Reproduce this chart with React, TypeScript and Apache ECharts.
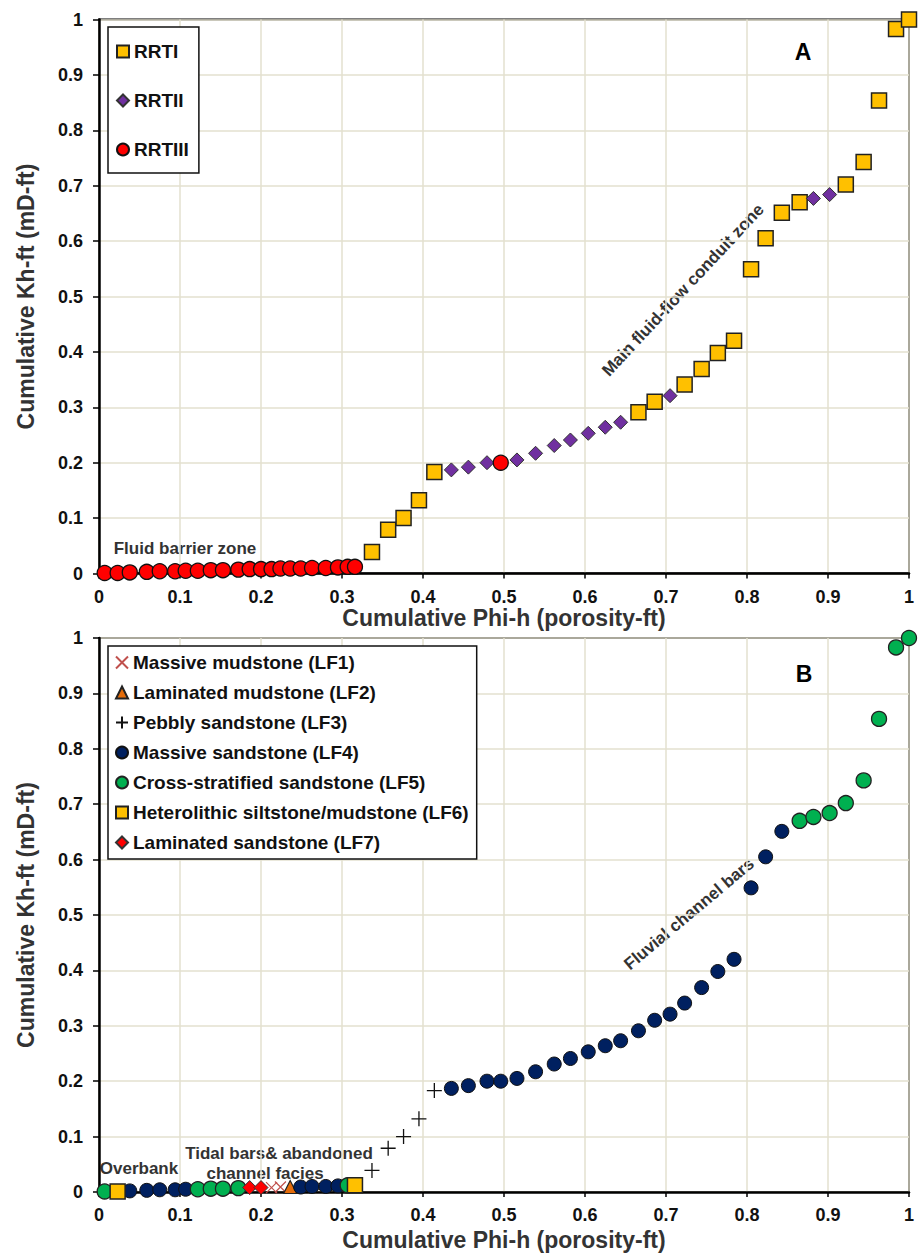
import React, { useEffect, useRef } from "react";
import * as echarts from "echarts";

// Cumulative Phi-h (x) and Cumulative Kh-ft (y) of each sample, in depth order
const phiH = [
  0.007, 0.023, 0.038, 0.059, 0.075, 0.094, 0.107, 0.122, 0.138, 0.153, 0.172,
  0.186, 0.2, 0.213, 0.224, 0.236, 0.249, 0.263, 0.28, 0.295, 0.307, 0.316,
  0.337, 0.357, 0.376, 0.395, 0.414, 0.435, 0.456, 0.479, 0.496, 0.516, 0.539,
  0.562, 0.582, 0.604, 0.625, 0.644, 0.666, 0.686, 0.705, 0.723, 0.744, 0.764,
  0.784, 0.805, 0.823, 0.843, 0.865, 0.882, 0.902, 0.922, 0.944, 0.963, 0.984, 1.0,
];
const khH = [
  0.001, 0.001, 0.002, 0.003, 0.004, 0.004, 0.005, 0.005, 0.006, 0.006, 0.007,
  0.008, 0.008, 0.008, 0.009, 0.009, 0.009, 0.01, 0.01, 0.011, 0.012, 0.012,
  0.039, 0.079, 0.1, 0.132, 0.183, 0.187, 0.192, 0.2, 0.2, 0.205, 0.217,
  0.231, 0.241, 0.253, 0.264, 0.273, 0.291, 0.31, 0.321, 0.341, 0.369, 0.398,
  0.42, 0.549, 0.605, 0.651, 0.67, 0.677, 0.684, 0.702, 0.743, 0.854, 0.983, 1.0,
];
// Reservoir rock type of each sample (panel A)
const rrtClass = [
  "RRTIII", "RRTIII", "RRTIII", "RRTIII", "RRTIII", "RRTIII", "RRTIII", "RRTIII", "RRTIII", "RRTIII", "RRTIII",
  "RRTIII", "RRTIII", "RRTIII", "RRTIII", "RRTIII", "RRTIII", "RRTIII", "RRTIII", "RRTIII", "RRTIII", "RRTIII",
  "RRTI", "RRTI", "RRTI", "RRTI", "RRTI", "RRTII", "RRTII", "RRTII", "RRTIII", "RRTII", "RRTII",
  "RRTII", "RRTII", "RRTII", "RRTII", "RRTII", "RRTI", "RRTI", "RRTII", "RRTI", "RRTI", "RRTI",
  "RRTI", "RRTI", "RRTI", "RRTI", "RRTI", "RRTII", "RRTII", "RRTI", "RRTI", "RRTI", "RRTI", "RRTI",
];
// Lithofacies of each sample (panel B)
const lfClass = [
  "LF5", "LF6", "LF4", "LF4", "LF4", "LF4", "LF4", "LF5", "LF5", "LF5", "LF5",
  "LF7", "LF7", "LF1", "LF1", "LF2", "LF4", "LF4", "LF4", "LF4", "LF5", "LF6",
  "LF3", "LF3", "LF3", "LF3", "LF3", "LF4", "LF4", "LF4", "LF4", "LF4", "LF4",
  "LF4", "LF4", "LF4", "LF4", "LF4", "LF4", "LF4", "LF4", "LF4", "LF4", "LF4",
  "LF4", "LF4", "LF4", "LF4", "LF5", "LF5", "LF5", "LF5", "LF5", "LF5", "LF5", "LF5",
];

const rrtNames = ["RRTI", "RRTII", "RRTIII"];
const lfCodes = ["LF1", "LF2", "LF3", "LF4", "LF5", "LF6", "LF7"];
const lfNames = [
  "Massive mudstone (LF1)",
  "Laminated mudstone (LF2)",
  "Pebbly sandstone (LF3)",
  "Massive sandstone (LF4)",
  "Cross-stratified sandstone (LF5)",
  "Heterolithic siltstone/mudstone (LF6)",
  "Laminated sandstone (LF7)",
];
const axisTicks = [0, 0.1, 0.2, 0.3, 0.4, 0.5, 0.6, 0.7, 0.8, 0.9, 1];

const xTitle = "Cumulative Phi-h (porosity-ft)";
const yTitle = "Cumulative Kh-ft (mD-ft)";

const PLUS = "path://M0,5L10,5M5,0L5,10";
const CROSS = "path://M0,0L10,10M10,0L0,10";

const rrtStyle: Record<string, any> = {
  RRTI: { symbol: "rect", size: 15, color: "#FFC000", border: "#222", bw: 1.5 },
  RRTII: { symbol: "diamond", size: 14, color: "#7030A0", border: "#333", bw: 1 },
  RRTIII: { symbol: "circle", size: 15, color: "#FF0000", border: "#111", bw: 1.3 },
};
const lfStyle: Record<string, any> = {
  LF1: { symbol: CROSS, size: 11, color: "#C0504D", border: "#C0504D", bw: 1.2 },
  LF2: { symbol: "triangle", size: 13, color: "#E46C0A", border: "#222", bw: 1.2 },
  LF3: { symbol: PLUS, size: 15, color: "#111", border: "#111", bw: 1.3 },
  LF4: { symbol: "circle", size: 14, color: "#002060", border: "#111", bw: 1 },
  LF5: { symbol: "circle", size: 15, color: "#00B050", border: "#222", bw: 1.3 },
  LF6: { symbol: "rect", size: 15, color: "#FFC000", border: "#222", bw: 1.5 },
  LF7: { symbol: "diamond", size: 14, color: "#FF0000", border: "#333", bw: 1 },
};

function pointsWhere(classes: string[], cls: string) {
  return phiH.map((x, i) => [x, khH[i]]).filter((_, i) => classes[i] === cls);
}

function makeXAxis(gridIndex: number, nameGap: number) {
  return {
    type: "value",
    gridIndex,
    min: 0,
    max: 1,
    interval: 0.1,
    name: xTitle,
    nameLocation: "middle",
    nameGap,
    nameTextStyle: { fontFamily: "Liberation Sans", fontWeight: "bold", fontSize: 23, color: "#333" },
    axisLine: { show: true, onZero: false, lineStyle: { color: "#000", width: 2.5 } },
    axisTick: { show: true, length: 5, lineStyle: { color: "#000", width: 1.5 } },
    axisLabel: {
      margin: 14,
      fontFamily: "Liberation Sans",
      fontWeight: "bold",
      fontSize: 18,
      color: "#111",
      formatter: (v: number) => String(axisTicks.find((t) => Math.abs(t - v) < 1e-6) ?? v),
    },
    splitLine: { show: true, lineStyle: { color: "#E3E0CF", width: 1.5 } },
  };
}

function makeYAxis(gridIndex: number) {
  return {
    type: "value",
    gridIndex,
    min: 0,
    max: 1,
    interval: 0.1,
    name: yTitle,
    nameLocation: "middle",
    nameGap: 62,
    nameTextStyle: { fontFamily: "Liberation Sans", fontWeight: "bold", fontSize: 23, color: "#333" },
    axisLine: { show: true, onZero: false, lineStyle: { color: "#000", width: 2.5 } },
    axisTick: { show: true, length: 6, lineStyle: { color: "#000", width: 1.5 } },
    axisLabel: {
      margin: 16,
      fontFamily: "Liberation Sans",
      fontWeight: "bold",
      fontSize: 18,
      color: "#111",
      formatter: (v: number) => String(axisTicks.find((t) => Math.abs(t - v) < 1e-6) ?? v),
    },
    splitLine: { show: true, lineStyle: { color: "#E3E0CF", width: 1.5 } },
  };
}

function scatterSeries(name: string, st: any, data: number[][], axisIndex: number) {
  return {
    type: "scatter",
    name,
    xAxisIndex: axisIndex,
    yAxisIndex: axisIndex,
    symbol: st.symbol,
    symbolSize: st.size,
    data,
    itemStyle: { color: st.color, borderColor: st.border, borderWidth: st.bw, opacity: 1 },
    emphasis: { disabled: true },
  };
}

const annotFont = "bold 17px 'Liberation Sans'";

export default function App() {
  const ref = useRef<HTMLDivElement>(null);
  useEffect(() => {
    document.body.style.margin = "0";
    if (!ref.current) return;
    const chart = echarts.init(ref.current, null, { renderer: "svg" });
    const seriesA = rrtNames.map((n) => scatterSeries(n, rrtStyle[n], pointsWhere(rrtClass, n), 0));
    const seriesB = lfCodes.map((c, i) => scatterSeries(lfNames[i], lfStyle[c], pointsWhere(lfClass, c), 1));
    const legendText = { fontFamily: "Liberation Sans", fontWeight: "bold", fontSize: 19, color: "#111" };
    chart.setOption({
      animation: false,
      backgroundColor: "#fff",
      grid: [
        { left: 99, top: 19.5, width: 810, height: 554, show: true, borderColor: "#000", borderWidth: 2, backgroundColor: "transparent" },
        { left: 99, top: 638, width: 810, height: 554, show: true, borderColor: "#000", borderWidth: 2, backgroundColor: "transparent" },
      ],
      xAxis: [makeXAxis(0, 31), makeXAxis(1, 36)],
      yAxis: [makeYAxis(0), makeYAxis(1)],
      legend: [
        {
          data: rrtNames,
          orient: "vertical",
          left: 108,
          top: 27,
          itemWidth: 12,
          itemHeight: 12,
          itemGap: 30,
          padding: [15, 10, 14, 8],
          borderColor: "#111",
          borderWidth: 1.5,
          backgroundColor: "#fff",
          textStyle: legendText,
          selectedMode: false,
        },
        {
          data: lfNames,
          orient: "vertical",
          left: 108,
          top: 646,
          itemWidth: 12,
          itemHeight: 12,
          itemGap: 11,
          padding: [7, 8, 7, 7],
          borderColor: "#111",
          borderWidth: 1.5,
          backgroundColor: "#fff",
          textStyle: legendText,
          selectedMode: false,
        },
      ],
      graphic: [
        { type: "text", x: 803, y: 52, style: { text: "A", font: "bold 23px 'Liberation Sans'", fill: "#000", align: "center", verticalAlign: "middle" } },
        { type: "text", x: 804, y: 674, style: { text: "B", font: "bold 23px 'Liberation Sans'", fill: "#000", align: "center", verticalAlign: "middle" } },
        { type: "text", x: 185, y: 548, style: { text: "Fluid barrier zone", font: annotFont, fill: "#333", align: "center", verticalAlign: "middle" } },
        { type: "text", x: 683, y: 290, rotation: (47 * Math.PI) / 180, style: { text: "Main fluid-flow conduit zone", font: annotFont, fill: "#333", align: "center", verticalAlign: "middle" } },
        { type: "text", x: 689, y: 914, rotation: (40 * Math.PI) / 180, style: { text: "Fluvial channel bars", font: annotFont, fill: "#333", align: "center", verticalAlign: "middle" } },
        { type: "text", x: 139, y: 1168, style: { text: "Overbank", font: annotFont, fill: "#333", align: "center", verticalAlign: "middle" } },
        { type: "text", x: 279, y: 1153, style: { text: "Tidal bars& abandoned", font: annotFont, fill: "#333", align: "center", verticalAlign: "middle" } },
        { type: "text", x: 265, y: 1173, style: { text: "channel facies", font: annotFont, fill: "#333", align: "center", verticalAlign: "middle" } },
      ],
      series: [...seriesA, ...seriesB],
    });
    return () => chart.dispose();
  }, []);
  return <div ref={ref} style={{ width: 921, height: 1257 }} />;
}
